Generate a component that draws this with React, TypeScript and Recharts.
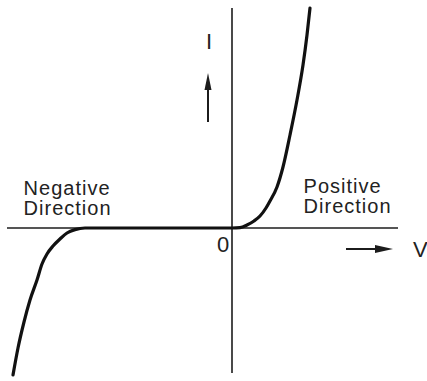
import React from 'react';
import { LineChart, Line, XAxis, YAxis, ReferenceLine, ReferenceDot } from 'recharts';

// Voltage-current characteristic of a symmetric non-linear element.
// V and I are in arbitrary units.
const voltage = [
  -10.95, -10.7, -10.4, -10.1, -9.75, -9.5, -9.25, -8.95, -8.6, -8.25, -7.85, -7.35,
  -5, -2.5, 0, 0.4, 0.75, 1.1, 1.4, 1.7, 1.9, 2.25, 2.55, 2.9, 3.25, 3.55, 3.75, 3.9,
];
const current = [
  -7.35, -6.0, -4.7, -3.6, -2.6, -1.8, -1.3, -0.9, -0.55, -0.25, -0.08, 0,
  0, 0, 0, 0.02, 0.15, 0.35, 0.6, 1.0, 1.35, 2.05, 3.05, 4.65, 6.4, 8.15, 9.65, 11.0,
];

const regionLabels = ['Negative', 'Direction', 'Positive', 'Direction'];
const axisLabels = { origin: '0', voltage: 'V', current: 'I' };

const data = voltage.map((v, k) => ({ v, i: current[k] }));

const X_DOMAIN: [number, number] = [-11.6, 9.75];
const Y_DOMAIN: [number, number] = [-7.65, 11.4];

const INK = '#1c1c1c';
const TEXT_INK = '#222222';
const FONT = '"Liberation Sans", Arial, Helvetica, sans-serif';

const textMark = (text: string, size: number, spacing = 0) => (p: any) => (
  <text
    x={p.cx}
    y={p.cy}
    fontFamily={FONT}
    fontSize={size}
    letterSpacing={spacing}
    fill={TEXT_INK}
  >
    {text}
  </text>
);

// Straight arrow whose head sits at the second segment point.
const arrowShape = (headLen: number, headHalf: number) => (p: any) => {
  const { x1, y1, x2, y2 } = p;
  const dx = x2 - x1;
  const dy = y2 - y1;
  const len = Math.hypot(dx, dy) || 1;
  const ux = dx / len;
  const uy = dy / len;
  const bx = x2 - ux * headLen;
  const by = y2 - uy * headLen;
  const pts = [
    `${x2},${y2}`,
    `${bx - uy * headHalf},${by + ux * headHalf}`,
    `${bx + uy * headHalf},${by - ux * headHalf}`,
  ].join(' ');
  return (
    <g>
      <line x1={x1} y1={y1} x2={bx + ux * 2} y2={by + uy * 2} stroke={INK} strokeWidth={2} />
      <polygon points={pts} fill={INK} />
    </g>
  );
};

export default function App() {
  return (
    <div style={{ position: 'absolute', left: 0, top: 0, background: '#fff' }}>
      <LineChart width={427} height={381} data={data} margin={{ top: 0, right: 0, bottom: 0, left: 0 }}>
        <XAxis type="number" dataKey="v" domain={X_DOMAIN} hide allowDataOverflow />
        <YAxis type="number" dataKey="i" domain={Y_DOMAIN} hide allowDataOverflow />

        {/* Coordinate axes */}
        <ReferenceLine
          segment={[{ x: -11.25, y: 0 }, { x: 8.3, y: 0 }]}
          stroke={INK}
          strokeWidth={1.6}
        />
        <ReferenceLine
          segment={[{ x: 0, y: 11.0 }, { x: 0, y: -7.25 }]}
          stroke={INK}
          strokeWidth={1.6}
        />

        {/* Direction arrows beside the axis symbols */}
        <ReferenceLine
          segment={[{ x: -1.2, y: 5.3 }, { x: -1.2, y: 7.75 }]}
          shape={arrowShape(17, 3.5)}
        />
        <ReferenceLine
          segment={[{ x: 5.7, y: -1.05 }, { x: 8.05, y: -1.05 }]}
          shape={arrowShape(18, 4)}
        />

        <Line
          type="monotone"
          dataKey="i"
          stroke="#111"
          strokeWidth={3.2}
          strokeLinecap="round"
          dot={false}
          activeDot={false}
          isAnimationActive={false}
        />

        {/* Text annotations */}
        <ReferenceDot x={-10.42} y={1.65} r={0} shape={textMark(regionLabels[0], 20, 1)} />
        <ReferenceDot x={-10.42} y={0.65} r={0} shape={textMark(regionLabels[1], 20, 1)} />
        <ReferenceDot x={3.58} y={1.75} r={0} shape={textMark(regionLabels[2], 20, 1)} />
        <ReferenceDot x={3.58} y={0.75} r={0} shape={textMark(regionLabels[3], 20, 1)} />
        <ReferenceDot x={-0.75} y={-1.2} r={0} shape={textMark(axisLabels.origin, 22)} />
        <ReferenceDot x={9.05} y={-1.45} r={0} shape={textMark(axisLabels.voltage, 22)} />
        <ReferenceDot x={-1.3} y={8.95} r={0} shape={textMark(axisLabels.current, 22)} />
      </LineChart>
    </div>
  );
}
